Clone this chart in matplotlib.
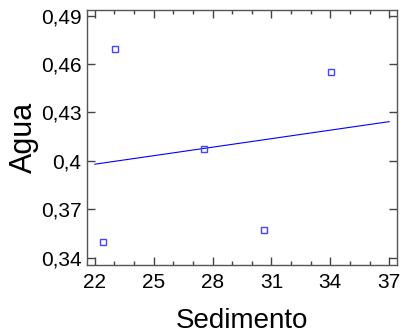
import numpy as np
import matplotlib
matplotlib.use('Agg')
import matplotlib.pyplot as plt
from matplotlib.ticker import MultipleLocator, FuncFormatter

plt.rcParams['font.family'] = ['Liberation Sans', 'DejaVu Sans']

# datos
sedimento = [22.43, 23.04, 27.54, 30.6, 34.03]
agua = [0.3496, 0.4692, 0.4076, 0.357, 0.455]
xticks = [22, 25, 28, 31, 34, 37]
yticks = [0.34, 0.37, 0.40, 0.43, 0.46, 0.49]

fig = plt.figure(figsize=(4.05, 3.34), dpi=100)
ax = fig.add_axes([0.2148, 0.2066, 0.7654, 0.7634])

# recta de regresion
b, a = np.polyfit(sedimento, agua, 1)
xl = np.array([22, 37])
ax.plot(xl, a + b * xl, color='#0000ff', lw=0.8)
ax.plot(sedimento, agua, 's', mfc='none', mec='#4444ff', ms=4, mew=1)

ax.set_xlim(21.6, 37.4)
ax.set_ylim(0.3355, 0.4935)
ax.set_xticks(xticks)
ax.set_yticks(yticks)
ax.xaxis.set_minor_locator(MultipleLocator(1))
ax.yaxis.set_major_formatter(FuncFormatter(lambda v, p: ('%g' % round(v, 2)).replace('.', ',')))

ax.tick_params(which='both', direction='in', top=True, right=True, color='#444444',
               labelsize=15, width=1)
ax.tick_params(axis='x', which='major', length=6, pad=6)
ax.tick_params(axis='y', which='major', length=6, pad=4)
ax.tick_params(which='minor', length=3)
ax.tick_params(axis='y', which='minor', left=False, right=False)
for s in ax.spines.values():
    s.set_color('#555555')
    s.set_linewidth(1)

ax.set_xlabel('Sedimento', fontsize=20, labelpad=11)
ax.set_ylabel('Agua', fontsize=22, labelpad=1)

fig.savefig('out.png', dpi=100)
